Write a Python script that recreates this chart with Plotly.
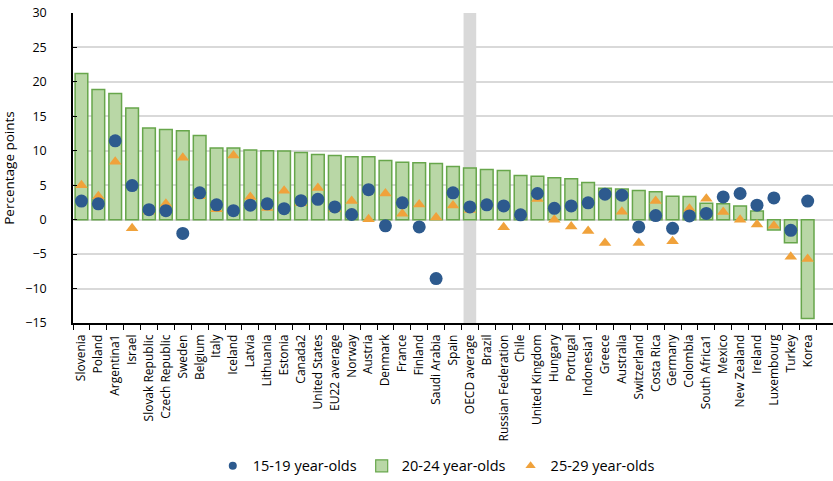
import plotly.graph_objects as go

countries = ["Slovenia", "Poland", "Argentina1", "Israel", "Slovak Republic", "Czech Republic",
             "Sweden", "Belgium", "Italy", "Iceland", "Latvia", "Lithuania", "Estonia", "Canada2",
             "United States", "EU22 average", "Norway", "Austria", "Denmark", "France", "Finland",
             "Saudi Arabia", "Spain", "OECD average", "Brazil", "Russian Federation", "Chile",
             "United Kingdom", "Hungary", "Portugal", "Indonesia1", "Greece", "Australia",
             "Switzerland", "Costa Rica", "Germany", "Colombia", "South Africa1", "Mexico",
             "New Zealand", "Ireland", "Luxembourg", "Turkey", "Korea"]

age_20_24 = [21.2, 18.9, 18.3, 16.2, 13.3, 13.1, 12.9, 12.2, 10.4, 10.4, 10.1, 10.0, 9.95, 9.75,
             9.45, 9.3, 9.15, 9.15, 8.6, 8.35, 8.25, 8.15, 7.7, 7.5, 7.3, 7.15, 6.4, 6.3,
             6.1, 5.95, 5.4, 4.55, 4.45, 4.25, 4.05, 3.4, 3.35, 2.4, 2.3, 2.0, 1.25, -1.5,
             -3.35, -14.35]

age_15_19 = [2.7, 2.3, 11.45, 4.95, 1.45, 1.3, -2.0, 3.9, 2.15, 1.3, 2.1, 2.3, 1.6, 2.75,
             2.95, 1.85, 0.75, 4.35, -0.9, 2.45, -1.05, -8.55, 3.9, 1.85, 2.15, 2.0, 0.7, 3.8,
             1.65, 2.0, 2.45, 3.7, 3.55, -1.05, 0.6, -1.25, 0.55, 0.9, 3.3, 3.8, 2.1, 3.15,
             -1.55, 2.7]

age_25_29 = [5.0, 3.4, 8.4, -1.25, 1.2, 2.3, 9.0, 3.4, 1.5, 9.3, 3.3, 1.7, 4.2, 2.4,
             4.6, 1.5, 2.7, 0.05, 3.8, 0.85, 2.2, 0.3, 2.05, 1.4, 2.1, -1.1, 0.7, 3.0,
             0.0, -1.0, -1.65, -3.4, 1.15, -3.4, 2.7, -3.15, 1.6, 3.05, 1.1, 0.0, -0.7, -0.9,
             -5.4, -5.7]

highlight = ["OECD average"]
y_range = [-15, 30]
y_ticks = [-15, -10, -5, 0, 5, 10, 15, 20, 25, 30]
legend_names = ["15-19 year-olds", "20-24 year-olds", "25-29 year-olds"]

BLUE = "#2d5a8e"
GREEN_FILL = "#b9d7a6"
GREEN_LINE = "#67a64b"
ORANGE = "#f0a23b"
GREY = "#d9d9d9"
FONT = "Open Sans"

fig = go.Figure()

# grey highlight band behind the OECD average
fig.add_bar(x=highlight, y=[y_range[1] - y_range[0]] * len(highlight), base=y_range[0],
            width=0.75, marker=dict(color=GREY, line=dict(width=0)),
            showlegend=False, hoverinfo="skip")

fig.add_bar(x=countries, y=age_20_24, width=0.75,
            marker=dict(color=GREEN_FILL, line=dict(color=GREEN_LINE, width=1.5)),
            showlegend=False, name=legend_names[1])

fig.add_scatter(x=countries, y=age_25_29, mode="markers", name=legend_names[2],
                marker=dict(symbol="triangle-up", size=11, color=ORANGE),
                showlegend=False)

fig.add_scatter(x=countries, y=age_15_19, mode="markers", name=legend_names[0],
                marker=dict(symbol="circle", size=13, color=BLUE),
                showlegend=False)

# legend entries
fig.add_scatter(x=[None], y=[None], mode="markers", name=legend_names[0],
                marker=dict(symbol="circle", size=8, color=BLUE))
fig.add_bar(x=[None], y=[None], name=legend_names[1],
            marker=dict(color=GREEN_FILL, line=dict(color=GREEN_LINE, width=1.2)))
fig.add_scatter(x=[None], y=[None], mode="markers", name=legend_names[2],
                marker=dict(symbol="triangle-up", size=9, color=ORANGE))

fig.update_layout(
    width=833, height=481,
    margin=dict(l=73, r=0, t=13, b=158, autoexpand=False),
    paper_bgcolor="white", plot_bgcolor="white",
    barmode="overlay",
    font=dict(family=FONT, color="black", size=12),
    showlegend=True,
    legend=dict(orientation="h", x=0.478, xanchor="center", y=-0.461, yanchor="middle",
                font=dict(size=14.5, family=FONT), itemclick=False, traceorder="normal"),
)

fig.update_xaxes(
    type="category", categoryorder="array", categoryarray=countries + [" "],
    range=[-0.5, len(countries) + 0.5], automargin=False,
    tickson="boundaries", ticks="outside", ticklen=5, tickwidth=1.2, tickcolor="black",
    showline=True, linecolor="black", linewidth=1.5,
    showgrid=False, tickangle=-90, tickfont=dict(size=12, family=FONT),
    ticklabelstandoff=5,
)

fig.update_yaxes(
    range=y_range, tickvals=y_ticks, automargin=False,
    ticks="inside", ticklen=4, tickwidth=1.3, tickcolor="black",
    showline=True, linecolor="black", linewidth=1.5,
    showgrid=True, gridcolor=GREY, gridwidth=1.5,
    zeroline=True, zerolinecolor=GREY, zerolinewidth=1.5,
    tickfont=dict(size=12.5, family=FONT), ticklabelstandoff=22,
    ticklabeloverflow="allow",
    title=dict(text="Percentage points", font=dict(size=13.5, family=FONT), standoff=9),
)

# remove the default page margin so the figure fills the 833x481 window exactly
fig.write_html("out.html", config={"displayModeBar": False},
               post_script="document.body.style.margin='0px';document.body.style.overflow='hidden';")
